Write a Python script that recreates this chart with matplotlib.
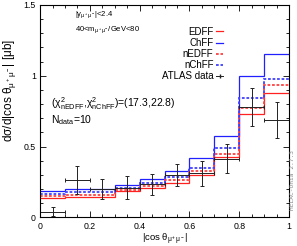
import numpy as np
import matplotlib
matplotlib.use('Agg')
import matplotlib.pyplot as plt
from matplotlib.lines import Line2D
from matplotlib.ticker import MultipleLocator, FormatStrFormatter

plt.rcParams['font.family'] = ['Liberation Sans', 'DejaVu Sans']
plt.rcParams['mathtext.fontset'] = 'custom'
plt.rcParams['mathtext.rm'] = 'Liberation Sans'
plt.rcParams['mathtext.it'] = 'Liberation Sans'
plt.rcParams['mathtext.default'] = 'regular'

# bin edges in |cos theta|
edges = [0.0, 0.1, 0.2, 0.3, 0.4, 0.5, 0.6, 0.7, 0.8, 0.9, 1.0]

# theory predictions (per bin)
edff = [0.139, 0.142, 0.143, 0.185, 0.205, 0.245, 0.300, 0.424, 0.727, 0.875]
chff = [0.189, 0.200, 0.201, 0.226, 0.270, 0.330, 0.417, 0.576, 0.999, 1.156]
nedff = [0.151, 0.158, 0.160, 0.197, 0.225, 0.265, 0.327, 0.445, 0.769, 0.935]
nchff = [0.168, 0.178, 0.180, 0.210, 0.245, 0.287, 0.347, 0.487, 0.844, 0.975]

# ATLAS data
data_x = [0.05, 0.15, 0.25, 0.35, 0.45, 0.55, 0.65, 0.75, 0.85, 0.95]
data_y = [0.042, 0.265, 0.200, 0.210, 0.233, 0.300, 0.311, 0.415, 0.778, 0.690]
data_err = [0.030, 0.100, 0.073, 0.080, 0.077, 0.080, 0.090, 0.100, 0.135, 0.127]
data_xerr = 0.05

fig = plt.figure(figsize=(2.97, 2.46), dpi=100)
ax = fig.add_axes([0.135, 0.116, 0.838, 0.864])

ax.stairs(edff, edges, color='#ff2020', lw=0.9, baseline=None)
ax.stairs(chff, edges, color='#2020ff', lw=0.9, baseline=None)
ax.stairs(nedff, edges, color='#ff4040', lw=1.3, ls=(0, (1.5, 1)), baseline=None)
ax.stairs(nchff, edges, color='#4040ff', lw=1.3, ls=(0, (1.5, 1)), baseline=None)
ax.errorbar(data_x, data_y, yerr=data_err, xerr=data_xerr, fmt='none',
            ecolor='#222222', elinewidth=0.7, capsize=1.5, capthick=0.7)

ax.set_xlim(0, 1)
ax.set_ylim(0, 1.5)
ax.xaxis.set_major_locator(MultipleLocator(0.2))
ax.xaxis.set_minor_locator(MultipleLocator(0.05))
ax.yaxis.set_major_locator(MultipleLocator(0.5))
ax.yaxis.set_minor_locator(MultipleLocator(0.1))
ax.xaxis.set_major_formatter(FormatStrFormatter('%g'))
ax.yaxis.set_major_formatter(FormatStrFormatter('%g'))
ax.tick_params(which='both', direction='in', top=True, right=True, labelsize=6.3, pad=3)
ax.tick_params(which='major', length=4, width=0.6)
ax.tick_params(which='minor', length=2, width=0.6)
for s in ax.spines.values():
    s.set_linewidth(0.8)

ax.set_xlabel(r'|cos $\theta_{\mu^+\mu^-}$|', fontsize=6.8, labelpad=1)
ax.set_ylabel(r'd$\sigma$/d|cos $\theta_{\mu^+\mu^-}$| [$\mu$b]', fontsize=8.5)
ax.yaxis.set_label_coords(-0.088, 0.6)

ax.text(0.14, 0.955, r'|$y_{\mu^+\mu^-}$|<2.4', transform=ax.transAxes, fontsize=5.5, va='center')
ax.text(0.14, 0.885, r'40<$m_{\mu^+\mu^-}$/GeV<80', transform=ax.transAxes, fontsize=5.5, va='center')
ax.text(0.045, 0.535, r'($\chi^2_{nEDFF}$,$\chi^2_{nChFF}$)=(17.3,22.8)', transform=ax.transAxes,
        fontsize=7.5, va='center')
ax.text(0.045, 0.46, r'N$_{data}$=10', transform=ax.transAxes, fontsize=7.5, va='center')

handles = [Line2D([], [], color='#ff2020', lw=0.9),
           Line2D([], [], color='#2020ff', lw=0.9),
           Line2D([], [], color='#ff4040', lw=1.3, ls=(0, (1.5, 1))),
           Line2D([], [], color='#4040ff', lw=1.3, ls=(0, (1.5, 1))),
           Line2D([], [], color='#222222', lw=0.7, marker='|', markersize=3)]
labels = ['EDFF', 'ChFF', 'nEDFF', 'nChFF', 'ATLAS data']
ax.legend(handles, labels, loc='upper right', bbox_to_anchor=(0.755, 0.92), frameon=False,
          markerfirst=False, fontsize=7, handlelength=0.7, handletextpad=0.3,
          labelspacing=0.12, borderpad=0)

fig.text(0.985, 0.27, 'HELAC-Onia 2.7.3', rotation=90, fontsize=4.5, color='#888888',
         family='DejaVu Sans Mono', ha='center', va='center')

fig.savefig('out.png', dpi=100)
